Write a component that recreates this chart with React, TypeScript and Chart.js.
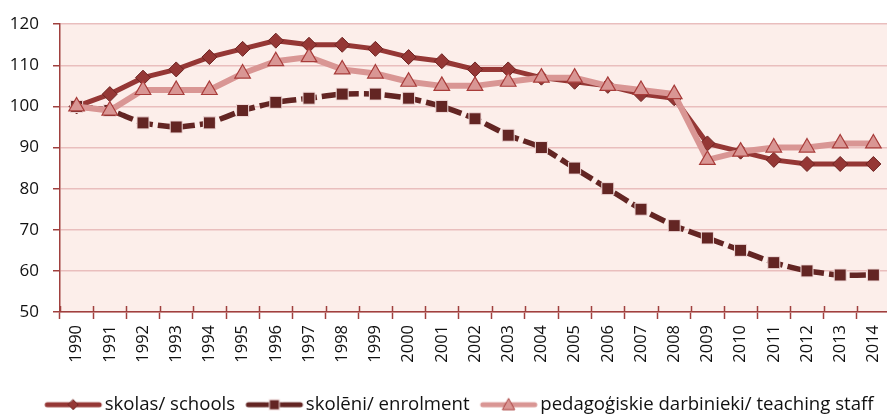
import React, { useEffect, useRef } from "react";
import { Chart, registerables } from "chart.js";

Chart.register(...registerables);

const years: string[] = [
  "1990", "1991", "1992", "1993", "1994", "1995", "1996", "1997", "1998", "1999",
  "2000", "2001", "2002", "2003", "2004", "2005", "2006", "2007", "2008", "2009",
  "2010", "2011", "2012", "2013", "2014",
];

const schools: number[] = [
  100, 103, 107, 109, 112, 114, 116, 115, 115, 114,
  112, 111, 109, 109, 107, 106, 105, 103, 102, 91,
  89, 87, 86, 86, 86,
];

const enrolment: number[] = [
  100, 99, 96, 95, 96, 99, 101, 102, 103, 103,
  102, 100, 97, 93, 90, 85, 80, 75, 71, 68,
  65, 62, 60, 59, 59,
];

const teachingStaff: number[] = [
  100, 99, 104, 104, 104, 108, 111, 112, 109, 108,
  106, 105, 105, 106, 107, 107, 105, 104, 103, 87,
  89, 90, 90, 91, 91,
];

const seriesNames: string[] = [
  "skolas/ schools",
  "skolēni/ enrolment",
  "pedagoģiskie darbinieki/ teaching staff",
];

const FONT = "'Open Sans', 'DejaVu Sans', sans-serif";
const C_SCHOOLS = "#953735";
const C_SCHOOLS_EDGE = "#6E2422";
const C_ENROL = "#632523";
const C_ENROL_EDGE = "#F2DCDB";
const C_TEACH = "#D99694";
const C_TEACH_EDGE = "#A83C3A";
const C_AXIS = "#A0403E";
const C_GRID = "#E9BEBD";
const C_BG = "#FCEEEA";

function legendSymbol(kind: "diamond" | "square" | "triangle"): HTMLCanvasElement {
  const c = document.createElement("canvas");
  c.width = 60;
  c.height = 16;
  const ctx = c.getContext("2d")!;
  const cy = 8;
  const cx = 30;
  ctx.lineCap = "round";
  ctx.lineWidth = 5;
  if (kind === "diamond") {
    ctx.strokeStyle = C_SCHOOLS;
    ctx.beginPath();
    ctx.moveTo(4, cy);
    ctx.lineTo(56, cy);
    ctx.stroke();
    ctx.fillStyle = C_SCHOOLS;
    ctx.strokeStyle = C_SCHOOLS_EDGE;
    ctx.lineWidth = 1;
    ctx.beginPath();
    ctx.moveTo(cx, cy - 5);
    ctx.lineTo(cx + 5, cy);
    ctx.lineTo(cx, cy + 5);
    ctx.lineTo(cx - 5, cy);
    ctx.closePath();
    ctx.fill();
    ctx.stroke();
  } else if (kind === "square") {
    ctx.strokeStyle = C_ENROL;
    ctx.beginPath();
    ctx.moveTo(4, cy);
    ctx.lineTo(21, cy);
    ctx.moveTo(39, cy);
    ctx.lineTo(56, cy);
    ctx.stroke();
    ctx.beginPath();
    ctx.moveTo(23, cy);
    ctx.lineTo(37, cy);
    ctx.stroke();
    ctx.fillStyle = C_ENROL;
    ctx.strokeStyle = C_ENROL_EDGE;
    ctx.lineWidth = 1;
    ctx.fillRect(cx - 5, cy - 5, 10, 10);
    ctx.strokeRect(cx - 5, cy - 5, 10, 10);
  } else {
    ctx.strokeStyle = C_TEACH;
    ctx.beginPath();
    ctx.moveTo(4, cy);
    ctx.lineTo(56, cy);
    ctx.stroke();
    ctx.fillStyle = C_TEACH;
    ctx.strokeStyle = C_TEACH_EDGE;
    ctx.lineWidth = 1;
    ctx.beginPath();
    ctx.moveTo(cx, cy - 6);
    ctx.lineTo(cx + 6, cy + 5);
    ctx.lineTo(cx - 6, cy + 5);
    ctx.closePath();
    ctx.fill();
    ctx.stroke();
  }
  return c;
}

const plotBackground = {
  id: "plotBackground",
  beforeDraw(chart: any) {
    const { ctx, chartArea } = chart;
    if (!chartArea) return;
    ctx.save();
    ctx.fillStyle = C_BG;
    ctx.fillRect(chartArea.left, chartArea.top, chartArea.right - chartArea.left, chartArea.bottom - chartArea.top);
    ctx.restore();
  },
};

const crossTicks = {
  id: "crossTicks",
  afterDraw(chart: any) {
    const xs = chart.scales.x;
    const { ctx, chartArea } = chart;
    if (!xs || !chartArea) return;
    const n = years.length;
    const step = xs.getPixelForValue(1) - xs.getPixelForValue(0);
    ctx.save();
    ctx.strokeStyle = C_AXIS;
    ctx.lineWidth = 1.5;
    ctx.beginPath();
    for (let i = 0; i <= n; i++) {
      const x = Math.round(xs.getPixelForValue(0) - step / 2 + i * step) + 0.5;
      ctx.moveTo(x, chartArea.bottom - 6);
      ctx.lineTo(x, chartArea.bottom);
    }
    ctx.stroke();
    ctx.restore();
  },
};

const legendShift = {
  id: "legendShift",
  afterLayout(chart: any) {
    if (chart.legend) {
      chart.legend.left = 34;
      chart.legend.right = 960;
    }
  },
};

export default function App() {
  const canvasRef = useRef<HTMLCanvasElement | null>(null);

  useEffect(() => {
    document.documentElement.style.overflow = "hidden";
    const canvas = canvasRef.current;
    if (!canvas) return;
    const symbols = [legendSymbol("diamond"), legendSymbol("square"), legendSymbol("triangle")];
    const chart = new Chart(canvas, {
      type: "line",
      data: {
        labels: years,
        datasets: [
          {
            label: seriesNames[0],
            data: schools,
            borderColor: C_SCHOOLS,
            borderWidth: 5,
            backgroundColor: C_SCHOOLS,
            pointStyle: "rectRot",
            pointRadius: 7.5,
            pointBackgroundColor: C_SCHOOLS,
            pointBorderColor: C_SCHOOLS_EDGE,
            pointBorderWidth: 1,
            tension: 0,
            order: 2,
          },
          {
            label: seriesNames[1],
            data: enrolment,
            borderColor: C_ENROL,
            borderWidth: 5.5,
            borderDash: [16, 5],
            backgroundColor: C_ENROL,
            pointStyle: "rect",
            pointRadius: 8.5,
            pointBackgroundColor: C_ENROL,
            pointBorderColor: C_ENROL_EDGE,
            pointBorderWidth: 1,
            tension: 0.2,
            order: 1,
          },
          {
            label: seriesNames[2],
            data: teachingStaff,
            borderColor: C_TEACH,
            borderWidth: 6,
            backgroundColor: C_TEACH,
            pointStyle: "triangle",
            pointRadius: 9,
            pointBackgroundColor: C_TEACH,
            pointBorderColor: C_TEACH_EDGE,
            pointBorderWidth: 1.2,
            tension: 0,
            order: 0,
          },
        ],
      },
      options: {
        animation: false,
        responsive: true,
        maintainAspectRatio: false,
        layout: { autoPadding: false, padding: { top: 20, right: 0, bottom: 0, left: 0 } },
        plugins: {
          tooltip: { enabled: false },
          legend: {
            position: "bottom",
            align: "start",
            labels: {
              usePointStyle: true,
              pointStyleWidth: 44.4,
              padding: 17,
              color: "#111",
              font: { family: FONT, size: 18.6 },
              generateLabels: () =>
                seriesNames.map((name, i) => ({
                  text: name,
                  pointStyle: symbols[i] as any,
                  datasetIndex: i,
                  fillStyle: "transparent",
                  strokeStyle: "transparent",
                  lineWidth: 0,
                  hidden: false,
                  fontColor: "#111",
                })),
            },
          },
        },
        scales: {
          x: {
            offset: true,
            grid: {
              display: true,
              drawOnChartArea: false,
              offset: true,
              tickLength: 7,
              tickColor: C_AXIS,
              tickWidth: 1.5,
            },
            border: { color: C_AXIS, width: 1.5 },
            ticks: {
              color: "#111",
              font: { family: FONT, size: 16.5 },
              minRotation: 90,
              maxRotation: 90,
              padding: 6,
              autoSkip: false,
            },
            afterFit: (axis: any) => {
              axis.height = 66.4;
              axis.paddingLeft = 0;
              axis.paddingRight = 0;
            },
          },
          y: {
            min: 50,
            max: 120,
            grid: {
              color: C_GRID,
              lineWidth: 1.5,
              tickLength: 7,
              tickColor: C_AXIS,
              tickWidth: 1.5,
            },
            border: { color: C_AXIS, width: 1.5 },
            ticks: {
              stepSize: 10,
              color: "#111",
              font: { family: FONT, size: 17 },
              padding: 14,
            },
            afterFit: (axis: any) => {
              axis.width = 60;
            },
          },
        },
      },
      plugins: [plotBackground, crossTicks, legendShift],
    });
    return () => chart.destroy();
  }, []);

  return (
    <div style={{ position: "absolute", left: 0, top: 0, width: 887, height: 414, overflow: "hidden", background: "#fff" }}>
      <div style={{ position: "relative", width: 890, height: 424 }}>
        <canvas ref={canvasRef} />
      </div>
    </div>
  );
}
